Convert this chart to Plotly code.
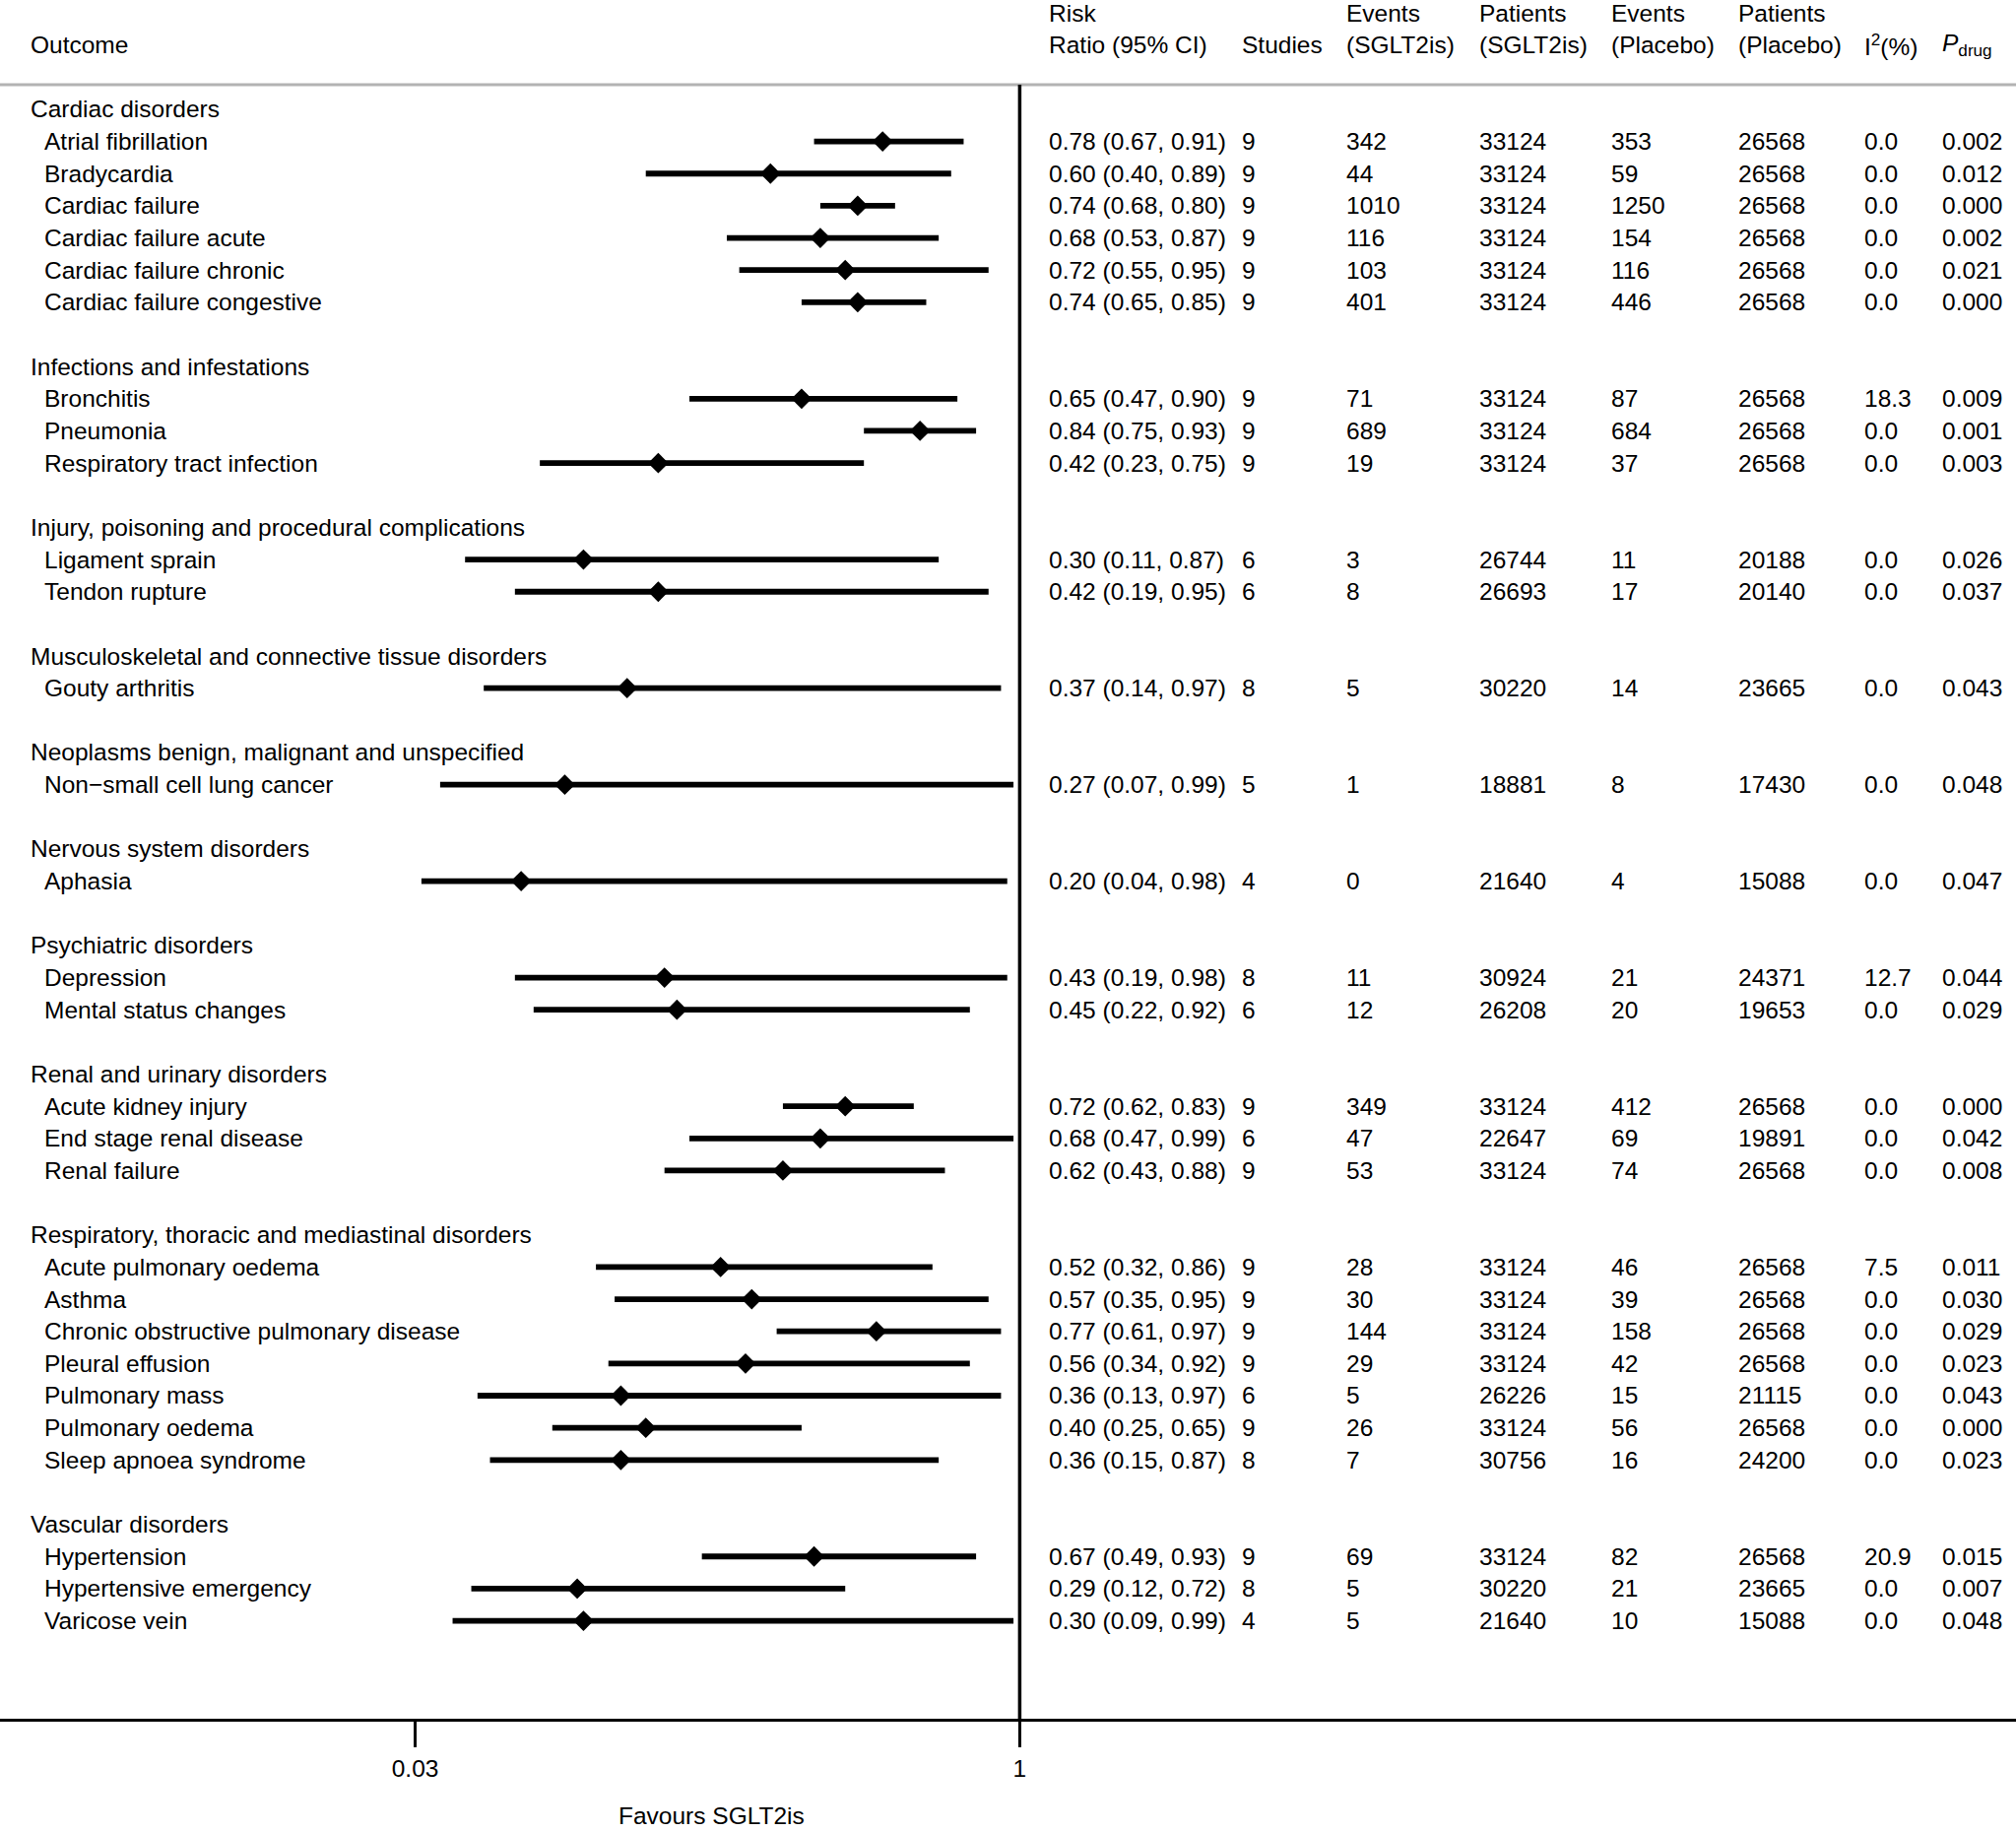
import plotly.graph_objects as go

# ---------------- data ----------------
groups = [
    "Cardiac disorders",
    "Infections and infestations",
    "Injury, poisoning and procedural complications",
    "Musculoskeletal and connective tissue disorders",
    "Neoplasms benign, malignant and unspecified",
    "Nervous system disorders",
    "Psychiatric disorders",
    "Renal and urinary disorders",
    "Respiratory, thoracic and mediastinal disorders",
    "Vascular disorders",
]
group_counts = [6, 3, 2, 1, 1, 1, 2, 3, 7, 3]

outcomes = [
    "Atrial fibrillation", "Bradycardia", "Cardiac failure", "Cardiac failure acute",
    "Cardiac failure chronic", "Cardiac failure congestive",
    "Bronchitis", "Pneumonia", "Respiratory tract infection",
    "Ligament sprain", "Tendon rupture",
    "Gouty arthritis",
    "Non\u2212small cell lung cancer",
    "Aphasia",
    "Depression", "Mental status changes",
    "Acute kidney injury", "End stage renal disease", "Renal failure",
    "Acute pulmonary oedema", "Asthma", "Chronic obstructive pulmonary disease",
    "Pleural effusion", "Pulmonary mass", "Pulmonary oedema", "Sleep apnoea syndrome",
    "Hypertension", "Hypertensive emergency", "Varicose vein",
]
rr = [0.78, 0.60, 0.74, 0.68, 0.72, 0.74,
      0.65, 0.84, 0.42,
      0.30, 0.42,
      0.37,
      0.27,
      0.20,
      0.43, 0.45,
      0.72, 0.68, 0.62,
      0.52, 0.57, 0.77, 0.56, 0.36, 0.40, 0.36,
      0.67, 0.29, 0.30]
ci_low = [0.67, 0.40, 0.68, 0.53, 0.55, 0.65,
          0.47, 0.75, 0.23,
          0.11, 0.19,
          0.14,
          0.07,
          0.04,
          0.19, 0.22,
          0.62, 0.47, 0.43,
          0.32, 0.35, 0.61, 0.34, 0.13, 0.25, 0.15,
          0.49, 0.12, 0.09]
ci_high = [0.91, 0.89, 0.80, 0.87, 0.95, 0.85,
           0.90, 0.93, 0.75,
           0.87, 0.95,
           0.97,
           0.99,
           0.98,
           0.98, 0.92,
           0.83, 0.99, 0.88,
           0.86, 0.95, 0.97, 0.92, 0.97, 0.65, 0.87,
           0.93, 0.72, 0.99]
studies = [9, 9, 9, 9, 9, 9,
           9, 9, 9,
           6, 6,
           8,
           5,
           4,
           8, 6,
           9, 6, 9,
           9, 9, 9, 9, 6, 9, 8,
           9, 8, 4]
events_sglt2 = [342, 44, 1010, 116, 103, 401,
                71, 689, 19,
                3, 8,
                5,
                1,
                0,
                11, 12,
                349, 47, 53,
                28, 30, 144, 29, 5, 26, 7,
                69, 5, 5]
patients_sglt2 = [33124, 33124, 33124, 33124, 33124, 33124,
                  33124, 33124, 33124,
                  26744, 26693,
                  30220,
                  18881,
                  21640,
                  30924, 26208,
                  33124, 22647, 33124,
                  33124, 33124, 33124, 33124, 26226, 33124, 30756,
                  33124, 30220, 21640]
events_placebo = [353, 59, 1250, 154, 116, 446,
                  87, 684, 37,
                  11, 17,
                  14,
                  8,
                  4,
                  21, 20,
                  412, 69, 74,
                  46, 39, 158, 42, 15, 56, 16,
                  82, 21, 10]
patients_placebo = [26568, 26568, 26568, 26568, 26568, 26568,
                    26568, 26568, 26568,
                    20188, 20140,
                    23665,
                    17430,
                    15088,
                    24371, 19653,
                    26568, 19891, 26568,
                    26568, 26568, 26568, 26568, 21115, 26568, 24200,
                    26568, 23665, 15088]
i2 = [0.0, 0.0, 0.0, 0.0, 0.0, 0.0,
      18.3, 0.0, 0.0,
      0.0, 0.0,
      0.0,
      0.0,
      0.0,
      12.7, 0.0,
      0.0, 0.0, 0.0,
      7.5, 0.0, 0.0, 0.0, 0.0, 0.0, 0.0,
      20.9, 0.0, 0.0]
p_drug = [0.002, 0.012, 0.000, 0.002, 0.021, 0.000,
          0.009, 0.001, 0.003,
          0.026, 0.037,
          0.043,
          0.048,
          0.047,
          0.044, 0.029,
          0.000, 0.042, 0.008,
          0.011, 0.030, 0.029, 0.023, 0.043, 0.000, 0.023,
          0.015, 0.007, 0.048]

x_tick_values = [0.03, 1]
x_tick_labels = ["0.03", "1"]

header_top = ["Risk", "", "Events", "Patients", "Events", "Patients", "", ""]
header_bottom = ["Ratio (95% CI)", "Studies", "(SGLT2is)", "(SGLT2is)", "(Placebo)",
                 "(Placebo)", "I<sup>2</sup>(%)", "<i>P</i><sub>drug</sub>"]
outcome_header = "Outcome"
axis_caption = "Favours SGLT2is"

# ---------------- layout constants ----------------
W, H = 2047, 1860
PLOT_BOTTOM = 1745.5        # px from top where the x axis line sits
ROW0 = 111.0                # px of first row centre
ROW_H = 32.66               # px per row
X_ONE = 1035.4              # px of value 1
PX_PER_UNIT = 632.8
GROUP_X = 28.5
ITEM_X = 43.0
COL_X = [1063.4, 1259.0, 1364.6, 1499.5, 1634.3, 1763.2, 1891.4, 1970.2]
FONT = dict(family="Liberation Sans, Arial, Helvetica, sans-serif", size=24.5, color="black")

x_range = [1 - X_ONE / PX_PER_UNIT, 1 + (W - X_ONE) / PX_PER_UNIT]
y_range = [(PLOT_BOTTOM - ROW0) / ROW_H, (0 - ROW0) / ROW_H]
line_row = (86.0 - ROW0) / ROW_H

# row assignment
group_rows, item_rows = [], []
r = 0
for g, n in zip(groups, group_counts):
    group_rows.append(r)
    r += 1
    for _ in range(n):
        item_rows.append(r)
        r += 1
    r += 1

fig = go.Figure()

# CI lines
xs, ys = [], []
for lo, hi, yr in zip(ci_low, ci_high, item_rows):
    xs += [lo, hi, None]
    ys += [yr, yr, None]
fig.add_trace(go.Scatter(x=xs, y=ys, mode="lines", line=dict(color="black", width=5.8),
                         hoverinfo="skip", showlegend=False))
# point estimates
fig.add_trace(go.Scatter(x=rr, y=item_rows, mode="markers",
                         marker=dict(symbol="diamond", size=16, color="black"),
                         showlegend=False, text=outcomes))

ann = []

def add_text(xpx, yrow, text):
    ann.append(dict(x=xpx / W, xref="paper", y=yrow, yref="y", text=text,
                    showarrow=False, xanchor="left", yanchor="middle", font=FONT))

# headers
add_text(GROUP_X, -2, outcome_header)
for cx, t1, t2 in zip(COL_X, header_top, header_bottom):
    if t1:
        add_text(cx, -3, t1)
    add_text(cx, -2, t2)

for g, yr in zip(groups, group_rows):
    add_text(GROUP_X, yr, g)

for i, yr in enumerate(item_rows):
    add_text(ITEM_X, yr, outcomes[i])
    vals = [
        f"{rr[i]:.2f} ({ci_low[i]:.2f}, {ci_high[i]:.2f})",
        str(studies[i]),
        str(events_sglt2[i]),
        str(patients_sglt2[i]),
        str(events_placebo[i]),
        str(patients_placebo[i]),
        f"{i2[i]:.1f}",
        f"{p_drug[i]:.3f}",
    ]
    for cx, v in zip(COL_X, vals):
        add_text(cx, yr, v)

ann.append(dict(x=722 / W, xref="paper", y=(PLOT_BOTTOM - 1859.5) / PLOT_BOTTOM, yref="paper",
                text=axis_caption, showarrow=False, xanchor="center", yanchor="bottom", font=FONT))

shapes = [
    dict(type="line", xref="paper", x0=0, x1=1, yref="y", y0=line_row, y1=line_row,
         line=dict(color="#b3b3b3", width=3)),
    dict(type="line", xref="x", x0=1, x1=1, yref="y", y0=line_row, y1=y_range[0],
         line=dict(color="black", width=3.5)),
]

fig.update_layout(
    width=W, height=H,
    margin=dict(l=0, r=0, t=0, b=H - PLOT_BOTTOM, pad=0),
    paper_bgcolor="white", plot_bgcolor="white",
    annotations=ann, shapes=shapes,
    font=FONT,
    xaxis=dict(range=x_range, showgrid=False, zeroline=False, showline=True,
               linecolor="black", linewidth=3.3, ticks="outside", ticklen=26,
               tickwidth=3.3, tickcolor="black", tickvals=x_tick_values,
               ticktext=x_tick_labels, tickfont=FONT, ticklabelstandoff=0),
    yaxis=dict(range=y_range, showgrid=False, zeroline=False, showline=False,
               showticklabels=False, ticks=""),
)

fig.write_html("out.html", config={"displayModeBar": False},
               post_script="document.body.style.margin='0px';")
